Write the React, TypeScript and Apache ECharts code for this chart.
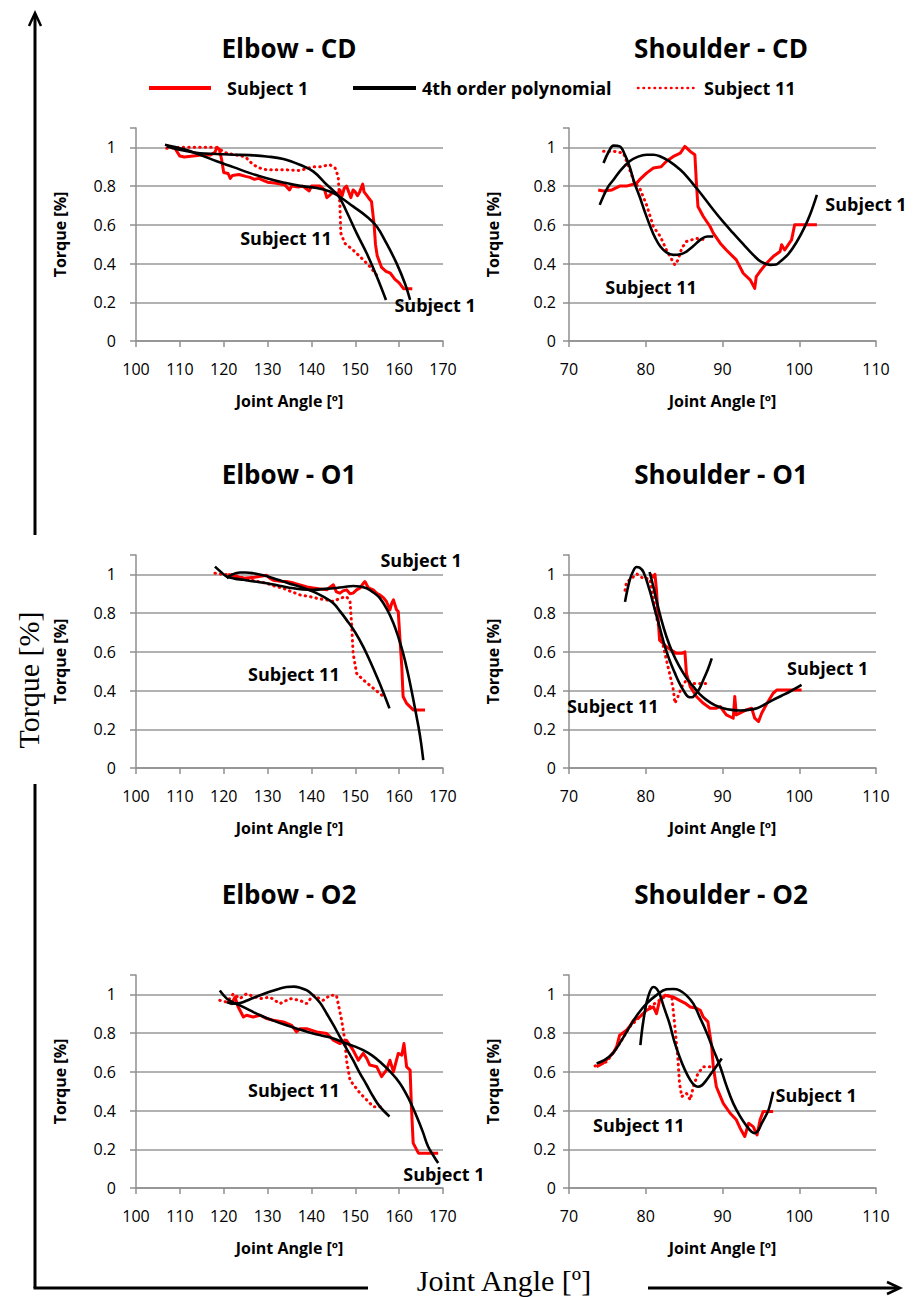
import React, { useEffect, useRef } from 'react';
import * as echarts from 'echarts';

type P = [number, number][];
type L = { name: string; value: [number, number] }[];

// ---------------- Elbow - CD ----------------
const elbowCdS1: P = [[109,0.99],[110,0.955],[111,0.95],[113,0.955],[115,0.96],[117,0.96],[118,0.975],[118.5,1.0],[119,0.99],[119.5,0.94],[120,0.87],[121,0.865],[121.5,0.84],[122,0.855],[123.5,0.86],[125,0.85],[126,0.845],[127,0.835],[128,0.84],[129,0.83],[130,0.82],[132,0.815],[134,0.805],[135,0.78],[135.5,0.8],[137,0.795],[138,0.8],[139.5,0.775],[140,0.8],[142,0.8],[143,0.78],[143.5,0.74],[144,0.75],[145,0.77],[146,0.76],[146.5,0.78],[147,0.75],[147.5,0.79],[148,0.8],[148.5,0.77],[149,0.74],[149.5,0.78],[150,0.77],[150.5,0.75],[151,0.77],[151.7,0.81],[152,0.77],[153,0.74],[153.7,0.72],[154.3,0.6],[154.6,0.5],[155,0.44],[156,0.38],[157,0.36],[158,0.35],[159,0.32],[160,0.3],[161,0.27],[163,0.27]];
const elbowCdS11: P = [[107,0.995],[110,1.0],[114,1.0],[118,1.0],[119,0.99],[120.7,0.97],[123,0.96],[124.5,0.953],[125.2,0.945],[126.7,0.91],[128.3,0.893],[129.8,0.884],[132,0.884],[134.3,0.884],[137.4,0.88],[138.9,0.89],[140.4,0.9],[142,0.9],[144.2,0.91],[145.4,0.893],[146.1,0.85],[146.5,0.695],[146.7,0.557],[147.6,0.505],[149.5,0.47],[151.8,0.42],[153.3,0.385],[154.9,0.34]];
const elbowCdFit1: P = [[106.6,1.014],[110.8,0.991],[114.6,0.962],[118.4,0.928],[122.2,0.898],[126,0.867],[129.8,0.841],[133.6,0.819],[137.4,0.801],[141.2,0.79],[144.2,0.772],[146.1,0.75],[149.5,0.695],[152.6,0.643],[154.9,0.591],[157.1,0.505],[159.4,0.402],[161.3,0.298],[162.5,0.212]];
const elbowCdFit11: P = [[107,1.005],[110.8,0.984],[114.6,0.97],[118.4,0.966],[122.2,0.962],[126,0.96],[129.8,0.953],[133.6,0.94],[137.4,0.91],[140.4,0.876],[143.5,0.807],[146.1,0.75],[148,0.669],[150.3,0.557],[152.6,0.453],[154.9,0.333],[157,0.212]];
const elbowCdLabels: L = [{ name: 'Subject 11', value: [134.2, 0.532] }, { name: 'Subject 1', value: [168.2, 0.186] }];

// ---------------- Shoulder - CD ----------------
const shoulderCdS1: P = [[73.8,0.78],[74.5,0.775],[75.6,0.78],[76.6,0.8],[77.5,0.8],[78.8,0.815],[79.2,0.833],[80.1,0.867],[81,0.893],[82,0.9],[82.7,0.928],[83.6,0.953],[84.5,0.97],[85.1,1.005],[85.8,0.979],[86.4,0.962],[86.6,0.815],[86.8,0.695],[87.5,0.643],[88.4,0.59],[88.8,0.557],[89.7,0.505],[90.5,0.47],[91.8,0.419],[92.7,0.35],[93.6,0.316],[94.2,0.272],[94.4,0.333],[94.9,0.36],[95.7,0.4],[96.6,0.436],[97.5,0.462],[97.7,0.497],[98.1,0.47],[99,0.522],[99.4,0.6],[102.3,0.6]];
const shoulderCdS11: P = [[74.5,0.98],[75.8,0.98],[77.1,0.97],[77.9,0.885],[78.5,0.82],[79.2,0.79],[80.1,0.703],[81,0.59],[81.9,0.54],[82.7,0.47],[83.4,0.42],[83.8,0.393],[84.2,0.419],[84.7,0.48],[85.3,0.514],[86.6,0.53],[87.9,0.522]];
const shoulderCdFit1: P = [[74,0.703],[75,0.79],[75.8,0.833],[76.8,0.885],[77.9,0.928],[79,0.952],[80.1,0.962],[81,0.962],[81.9,0.953],[83,0.93],[84.5,0.884],[85.5,0.843],[86.6,0.79],[87.7,0.735],[88.8,0.678],[90.1,0.615],[91.4,0.557],[92.7,0.5],[94,0.445],[95,0.41],[96.2,0.393],[97,0.395],[97.5,0.41],[98.6,0.45],[99.7,0.514],[100.6,0.58],[101.4,0.652],[102.3,0.755]];
const shoulderCdFit11: P = [[74.5,0.919],[75.2,0.98],[75.8,1.009],[76.6,1.005],[77.3,0.96],[77.9,0.9],[78.5,0.82],[79.2,0.746],[79.9,0.665],[80.6,0.59],[81.2,0.535],[81.9,0.488],[82.7,0.458],[83.6,0.445],[84.5,0.448],[85.3,0.462],[86.2,0.49],[87.1,0.522],[88,0.54],[88.8,0.54]];
const shoulderCdLabels: L = [{ name: 'Subject 1', value: [108.7, 0.708] }, { name: 'Subject 11', value: [80.7, 0.279] }];

// ---------------- Elbow - O1 ----------------
const elbowO1S1: P = [[121,1.0],[122.5,0.99],[124.5,0.98],[127,0.985],[129.8,0.995],[130.5,0.98],[131.3,0.97],[133,0.965],[134.3,0.963],[136,0.955],[137.4,0.946],[139,0.935],[140.4,0.93],[142,0.925],[143.5,0.92],[144.3,0.935],[145,0.946],[145.7,0.91],[146.5,0.903],[147.2,0.915],[148,0.92],[148.8,0.9],[149.5,0.903],[150.3,0.92],[151.1,0.93],[151.7,0.95],[152.2,0.963],[153,0.93],[154.1,0.92],[155,0.9],[155.6,0.894],[156.4,0.88],[157.1,0.86],[157.9,0.817],[158.3,0.85],[158.7,0.868],[159.4,0.817],[159.8,0.808],[160.2,0.661],[160.6,0.524],[160.9,0.369],[161.7,0.334],[163.2,0.3],[165.9,0.3]];
const elbowO1S11: P = [[118,1.006],[120,1.0],[122.2,0.997],[124,0.985],[126,0.972],[128,0.962],[129.8,0.954],[131.5,0.94],[133.6,0.928],[135.5,0.91],[137.4,0.894],[139.7,0.885],[141.5,0.875],[143.5,0.868],[145,0.86],[146.5,0.877],[148,0.885],[148.8,0.86],[149.2,0.73],[149.5,0.592],[150.3,0.489],[151.8,0.455],[154.1,0.412],[156.4,0.369]];
const elbowO1Fit1: P = [[118,1.04],[119.5,1.01],[120.7,0.989],[122.5,0.978],[124.5,0.972],[127,0.963],[129.8,0.954],[133,0.94],[135.9,0.928],[138,0.922],[140.4,0.92],[143,0.925],[145,0.928],[147.5,0.935],[149.5,0.94],[151,0.937],[152.6,0.928],[154.2,0.905],[155.6,0.877],[157.2,0.82],[158.7,0.748],[159.9,0.67],[160.9,0.593],[161.9,0.5],[162.8,0.403],[163.6,0.31],[164.4,0.214],[165,0.13],[165.5,0.041]];
const elbowO1Fit11: P = [[120.7,0.98],[122,1.0],[123.7,1.01],[125,1.01],[126.7,1.006],[129,0.995],[131.3,0.98],[133.6,0.963],[135.9,0.946],[138.2,0.93],[140.4,0.911],[142.7,0.885],[145,0.851],[146.5,0.81],[148,0.765],[150,0.7],[151.8,0.627],[153.4,0.55],[154.9,0.472],[156.4,0.39],[157.8,0.308]];
const elbowO1Labels: L = [{ name: 'Subject 1', value: [165, 1.075] }, { name: 'Subject 11', value: [136, 0.486] }];

// ---------------- Shoulder - O1 ----------------
const shoulderO1S1: P = [[80.5,1.003],[81,0.986],[81.2,1.0],[81.4,0.918],[81.6,0.78],[81.8,0.66],[82.7,0.626],[83.3,0.61],[84,0.592],[84.7,0.592],[85.1,0.6],[85.3,0.489],[85.8,0.42],[86.6,0.369],[87.5,0.334],[88.4,0.309],[89.2,0.309],[89.7,0.317],[90.5,0.274],[91.4,0.257],[91.6,0.369],[91.8,0.274],[92.7,0.292],[93.1,0.3],[93.8,0.309],[94.2,0.257],[94.7,0.24],[95.1,0.283],[95.8,0.334],[96.6,0.386],[97.1,0.403],[97.9,0.403],[100.3,0.403]];
const shoulderO1S11: P = [[77.3,0.918],[77.5,0.96],[78.2,0.98],[78.8,1.003],[79.7,0.978],[80.5,0.978],[81,0.883],[81.4,0.78],[82.1,0.66],[82.7,0.557],[83.1,0.489],[83.6,0.403],[83.8,0.334],[84.2,0.369],[84.7,0.42],[85.3,0.455],[86.2,0.437],[87.1,0.437],[88.4,0.437]];
const shoulderO1Fit1: P = [[80.5,1.012],[81,0.935],[81.4,0.866],[82,0.77],[82.7,0.678],[83.5,0.595],[84.4,0.523],[85.3,0.465],[86.2,0.42],[87,0.383],[87.9,0.352],[89,0.325],[90.1,0.309],[91.2,0.3],[92.3,0.297],[93.4,0.3],[94.5,0.309],[95.5,0.328],[96.6,0.352],[97.7,0.373],[98.8,0.395],[100.3,0.429]];
const shoulderO1Fit11: P = [[77.3,0.858],[77.9,0.969],[78.4,1.02],[78.8,1.038],[79.2,1.035],[79.7,1.012],[80.5,0.918],[81.1,0.83],[81.8,0.729],[82.4,0.64],[83.1,0.557],[83.8,0.49],[84.4,0.437],[85,0.395],[85.5,0.369],[86,0.365],[86.4,0.377],[87,0.41],[87.5,0.455],[88.1,0.51],[88.6,0.566]];
const shoulderO1Labels: L = [{ name: 'Subject 1', value: [103.7, 0.517] }, { name: 'Subject 11', value: [75.7, 0.32] }];

// ---------------- Elbow - O2 ----------------
const elbowO2S1: P = [[121,0.969],[121.8,0.952],[122.6,0.986],[123.3,0.935],[124.5,0.883],[125.2,0.892],[126.7,0.883],[128.3,0.892],[129.8,0.875],[131.3,0.866],[133.6,0.858],[135.5,0.84],[136.6,0.806],[137.4,0.823],[138.9,0.823],[141.2,0.806],[143.5,0.798],[145,0.763],[146.5,0.746],[148,0.763],[149.5,0.712],[150.7,0.66],[151.8,0.695],[152.6,0.669],[153.3,0.635],[154.9,0.626],[156,0.575],[157.1,0.609],[157.9,0.66],[158.7,0.6],[159.8,0.695],[160.6,0.686],[161.1,0.746],[161.7,0.626],[162.5,0.609],[162.8,0.42],[163.2,0.232],[164.4,0.18],[168.9,0.18]];
const elbowO2S11: P = [[119.1,0.969],[120.7,0.96],[122.2,1.003],[123.7,0.978],[125.2,1.003],[126.7,0.99],[128.3,0.978],[130.5,0.986],[132.8,0.952],[135.1,0.978],[137.4,0.969],[138.9,0.952],[140.4,0.995],[142.7,0.969],[144.2,0.995],[145.7,0.995],[146.9,0.866],[147.6,0.763],[148,0.66],[148.8,0.557],[151.1,0.489],[152.6,0.455],[154.1,0.42],[156.8,0.42]];
const elbowO2Fit1: P = [[119.1,1.02],[120.7,0.978],[122,0.96],[123.7,0.943],[126,0.917],[128.3,0.892],[131,0.867],[134.3,0.84],[137.4,0.818],[140.4,0.798],[143,0.784],[145,0.772],[148,0.746],[150,0.73],[151.8,0.712],[153.8,0.685],[155.6,0.652],[158,0.6],[160.2,0.54],[162.2,0.46],[164,0.369],[165.4,0.29],[166.6,0.214],[168,0.16],[168.9,0.129]];
const elbowO2Fit11: P = [[120.7,0.96],[122,0.952],[123.7,0.955],[126,0.975],[128.3,0.995],[131,1.017],[134.3,1.038],[136,1.04],[137.4,1.034],[139,1.02],[140.4,0.995],[142,0.955],[143.5,0.9],[145,0.842],[146.5,0.78],[148,0.72],[149.5,0.66],[151,0.595],[152.6,0.532],[154,0.475],[155.6,0.42],[157.8,0.369]];
const elbowO2Labels: L = [{ name: 'Subject 11', value: [136, 0.506] }, { name: 'Subject 1', value: [170.2, 0.072] }];

// ---------------- Shoulder - O2 ----------------
const shoulderO2S1: P = [[73.6,0.626],[74.4,0.643],[75.3,0.678],[75.8,0.7],[76.2,0.729],[76.6,0.789],[77.5,0.815],[78,0.84],[78.4,0.866],[79.2,0.883],[80.1,0.918],[81,0.935],[81.4,0.9],[81.8,0.969],[82.5,0.995],[83.6,0.986],[84.4,0.969],[85.1,0.955],[85.8,0.935],[86.5,0.93],[87.1,0.918],[87.5,0.883],[88.1,0.858],[88.6,0.729],[88.8,0.626],[89.2,0.523],[90.1,0.437],[91,0.386],[91.8,0.352],[92.3,0.309],[92.9,0.266],[93.4,0.334],[94,0.317],[94.5,0.274],[94.9,0.352],[95.3,0.395],[96.6,0.395]];
const shoulderO2S11: P = [[73.4,0.63],[74.9,0.652],[76.6,0.746],[77.9,0.832],[79.2,0.883],[80.5,0.935],[81.8,0.969],[82.7,0.995],[83.4,0.986],[83.8,0.832],[84.2,0.66],[84.4,0.54],[84.7,0.472],[85.3,0.489],[85.8,0.455],[86.2,0.523],[86.8,0.592],[87.5,0.626],[88.4,0.626]];
const shoulderO2Fit1: P = [[73.6,0.643],[74.6,0.66],[75.7,0.695],[76.8,0.76],[77.9,0.832],[79,0.9],[80.1,0.952],[81.4,0.996],[82.7,1.026],[83.6,1.028],[84.4,1.021],[85.3,0.995],[86.2,0.952],[87,0.885],[87.9,0.806],[88.8,0.716],[89.7,0.626],[90.5,0.53],[91.4,0.437],[92.3,0.37],[93.2,0.317],[93.8,0.29],[94.2,0.283],[94.7,0.3],[95.1,0.334],[95.6,0.37],[96,0.403],[96.6,0.497]];
const shoulderO2Fit11: P = [[79.3,0.738],[79.7,0.866],[80.3,0.986],[81,1.038],[81.4,1.03],[81.8,1.003],[82.4,0.93],[83.1,0.849],[83.7,0.76],[84.4,0.678],[85.1,0.61],[85.8,0.557],[86.3,0.532],[86.8,0.523],[87.3,0.53],[87.9,0.557],[88.5,0.59],[89,0.617],[89.9,0.669]];
const shoulderO2Labels: L = [{ name: 'Subject 1', value: [102.2, 0.48] }, { name: 'Subject 11', value: [79.1, 0.326] }];

const yTicks = [0, 0.2, 0.4, 0.6, 0.8, 1];
const elbowRange = [100, 170];
const shoulderRange = [70, 110];

const FONT = '"Open Sans", "Noto Sans", sans-serif';
const SERIF = '"Liberation Serif", "DejaVu Serif", serif';
const RED = '#ff0000';
const GRAY = '#8f8f8f';
const GRID_LINE = '#999999';

const panels = [
  { title: 'Elbow - CD', col: 0, row: 0, s1: elbowCdS1, s11: elbowCdS11, fits: [elbowCdFit1, elbowCdFit11], labels: elbowCdLabels },
  { title: 'Shoulder - CD', col: 1, row: 0, s1: shoulderCdS1, s11: shoulderCdS11, fits: [shoulderCdFit1, shoulderCdFit11], labels: shoulderCdLabels },
  { title: 'Elbow - O1', col: 0, row: 1, s1: elbowO1S1, s11: elbowO1S11, fits: [elbowO1Fit1, elbowO1Fit11], labels: elbowO1Labels },
  { title: 'Shoulder - O1', col: 1, row: 1, s1: shoulderO1S1, s11: shoulderO1S11, fits: [shoulderO1Fit1, shoulderO1Fit11], labels: shoulderO1Labels },
  { title: 'Elbow - O2', col: 0, row: 2, s1: elbowO2S1, s11: elbowO2S11, fits: [elbowO2Fit1, elbowO2Fit11], labels: elbowO2Labels },
  { title: 'Shoulder - O2', col: 1, row: 2, s1: shoulderO2S1, s11: shoulderO2S11, fits: [shoulderO2Fit1, shoulderO2Fit11], labels: shoulderO2Labels },
];

const COLS = [
  { left: 136, range: elbowRange, labelMargin: 20, titleX: 289 },
  { left: 569, range: shoulderRange, labelMargin: 13, titleX: 721 },
];
const ROWS = [{ top: 128, titleY: 48 }, { top: 555, titleY: 474 }, { top: 975, titleY: 894 }];
const GRID_W = 307;
const GRID_H = 213;

function buildOption() {
  const grid: any[] = [];
  const xAxis: any[] = [];
  const yAxis: any[] = [];
  const series: any[] = [];
  const graphic: any[] = [];

  panels.forEach((p, i) => {
    const c = COLS[p.col];
    const r = ROWS[p.row];
    grid.push({ left: c.left, top: r.top, width: GRID_W, height: GRID_H, containLabel: false });
    xAxis.push({
      gridIndex: i, type: 'value', min: c.range[0], max: c.range[1], interval: 10,
      axisLine: { show: true, onZero: false, lineStyle: { color: GRAY, width: 1.5 } },
      axisTick: { show: true, length: 6, lineStyle: { color: GRAY, width: 1.5 } },
      axisLabel: { fontSize: 16, color: '#000', fontFamily: FONT, margin: 20 },
      splitLine: { show: false },
      name: 'Joint Angle [º]', nameLocation: 'middle', nameGap: 52,
      nameTextStyle: { fontSize: 16, fontWeight: 'bold', color: '#000', fontFamily: FONT },
    });
    yAxis.push({
      gridIndex: i, type: 'value', min: 0, max: 1.1, interval: 0.2,
      axisLine: { show: true, onZero: false, lineStyle: { color: GRAY, width: 1.5 } },
      axisTick: { show: true, length: 6, lineStyle: { color: GRAY, width: 1.5 } },
      axisLabel: {
        fontSize: 16, color: '#000', fontFamily: FONT, margin: c.labelMargin,
        formatter: (v: number) => (v > 1.05 ? '' : String(Math.round(v * 10) / 10)),
      },
      splitLine: {
        show: true,
        lineStyle: { color: [GRID_LINE, GRID_LINE, GRID_LINE, GRID_LINE, GRID_LINE, GRID_LINE, 'rgba(0,0,0,0)'], width: 1.5 },
      },
      name: 'Torque [%]', nameLocation: 'middle', nameGap: 68, nameRotate: 90,
      nameTextStyle: { fontSize: 16, fontWeight: 'bold', color: '#000', fontFamily: FONT },
    });
    series.push({
      type: 'line', name: 'Subject 1', xAxisIndex: i, yAxisIndex: i, data: p.s1,
      showSymbol: false, symbol: 'none', silent: true, z: 2,
      lineStyle: { color: RED, width: 3, join: 'round' }, itemStyle: { color: RED },
    });
    series.push({
      type: 'line', name: 'Subject 11', xAxisIndex: i, yAxisIndex: i, data: p.s11,
      showSymbol: false, symbol: 'none', silent: true, z: 2,
      lineStyle: { color: RED, width: 3, type: [0.5, 5], cap: 'round' }, itemStyle: { color: RED },
    });
    p.fits.forEach((f) => {
      series.push({
        type: 'line', name: '4th order polynomial', xAxisIndex: i, yAxisIndex: i, data: f,
        showSymbol: false, symbol: 'none', silent: true, smooth: 0.4, z: 3,
        lineStyle: { color: '#000', width: 2.6 }, itemStyle: { color: '#000' },
      });
    });
    series.push({
      type: 'scatter', xAxisIndex: i, yAxisIndex: i, clip: false, silent: true, z: 4,
      symbolSize: 1, itemStyle: { color: 'rgba(0,0,0,0)' },
      data: p.labels,
      label: {
        show: true, position: 'inside', formatter: '{b}', fontSize: 18, fontWeight: 'bold',
        color: '#000', fontFamily: FONT, textBorderWidth: 0, opacity: 1,
      },
    });
    graphic.push({
      type: 'text', x: c.titleX, y: r.titleY, silent: true,
      style: { text: p.title, fontSize: 26, fontWeight: 'bold', fontFamily: FONT, fill: '#000', align: 'center', verticalAlign: 'middle' },
    });
  });

  // legend (drawn)
  const LY = 88;
  graphic.push(
    { type: 'line', shape: { x1: 149, y1: LY, x2: 211, y2: LY }, style: { stroke: RED, lineWidth: 4 } },
    { type: 'text', x: 227, y: LY, style: { text: 'Subject 1', fontSize: 18, fontWeight: 'bold', fontFamily: FONT, fill: '#000', align: 'left', verticalAlign: 'middle' } },
    { type: 'line', shape: { x1: 353, y1: LY, x2: 416, y2: LY }, style: { stroke: '#000', lineWidth: 4 } },
    { type: 'text', x: 422, y: LY, style: { text: '4th order polynomial', fontSize: 18, fontWeight: 'bold', fontFamily: FONT, fill: '#000', align: 'left', verticalAlign: 'middle' } },
    { type: 'line', shape: { x1: 638, y1: LY, x2: 695, y2: LY }, style: { stroke: RED, lineWidth: 2.5, lineDash: [0.5, 5], lineCap: 'round' } },
    { type: 'text', x: 704, y: LY, style: { text: 'Subject 11', fontSize: 18, fontWeight: 'bold', fontFamily: FONT, fill: '#000', align: 'left', verticalAlign: 'middle' } },
  );

  // big frame arrows
  const AX = 35;
  const BY = 1288;
  graphic.push(
    { type: 'line', shape: { x1: AX, y1: 14, x2: AX, y2: 535 }, style: { stroke: '#000', lineWidth: 3 } },
    { type: 'polyline', shape: { points: [[AX - 6, 26], [AX, 13], [AX + 6, 26]] }, style: { stroke: '#000', lineWidth: 2.5, fill: 'none' } },
    { type: 'line', shape: { x1: AX, y1: 784, x2: AX, y2: BY }, style: { stroke: '#000', lineWidth: 3 } },
    { type: 'line', shape: { x1: AX - 1.5, y1: BY, x2: 368, y2: BY }, style: { stroke: '#000', lineWidth: 3 } },
    { type: 'line', shape: { x1: 648, y1: BY, x2: 899, y2: BY }, style: { stroke: '#000', lineWidth: 3 } },
    { type: 'polyline', shape: { points: [[887, BY - 6], [900, BY], [887, BY + 6]] }, style: { stroke: '#000', lineWidth: 2.5, fill: 'none' } },
    {
      type: 'text', x: 28, y: 680, rotation: Math.PI / 2,
      style: { text: 'Torque [%]', fontSize: 30, fontFamily: SERIF, fill: '#000', align: 'center', verticalAlign: 'middle' },
    },
    {
      type: 'text', x: 504, y: 1280,
      style: { text: 'Joint Angle [º]', fontSize: 30, fontFamily: SERIF, fill: '#000', align: 'center', verticalAlign: 'middle' },
    },
  );

  return {
    animation: false,
    backgroundColor: '#fff',
    grid, xAxis, yAxis, series, graphic,
  };
}

export default function App() {
  const ref = useRef<HTMLDivElement>(null);
  useEffect(() => {
    if (!ref.current) return;
    const chart = echarts.init(ref.current, null, { renderer: 'svg' });
    chart.setOption(buildOption() as any);
    return () => chart.dispose();
  }, []);
  return <div ref={ref} style={{ position: 'absolute', left: 0, top: 0, width: 913, height: 1297, background: '#fff' }} />;
}
